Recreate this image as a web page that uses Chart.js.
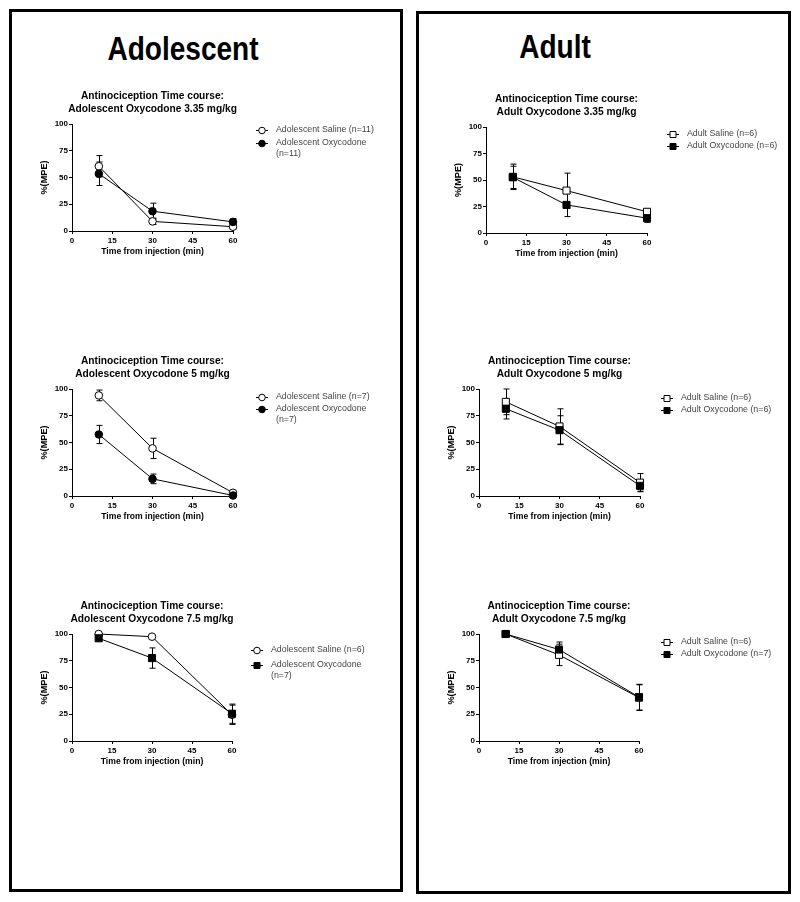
<!DOCTYPE html>
<html lang="en">
<head>
<meta charset="UTF-8">
<title>Antinociception Time course</title>
<script src="https://cdn.jsdelivr.net/npm/chart.js"></script>
<style>
  body { margin: 0; width: 800px; height: 902px; background: #fff; position: relative; font-family: "Liberation Sans", Arial, sans-serif; overflow: hidden; }
  .painel { position: absolute; border: 3px solid #000; box-sizing: border-box; }
  .grupo { position: absolute; width: 200px; text-align: center; font-weight: bold; font-size: 33px; line-height: 33px; transform: scaleX(0.85); white-space: nowrap; }
  canvas { position: absolute; }
</style>
</head>
<body>
<div class="painel" style="left:9px;top:9px;width:394px;height:883px"></div>
<div class="painel" style="left:416px;top:11px;width:375px;height:883px"></div>
<div class="grupo" style="left:83px;top:32px">Adolescent</div>
<div class="grupo" style="left:455px;top:30px">Adult</div>

<script>
// tempos (min) e ticks
var tempos = [10, 30, 60];
var ticksX = [0, 15, 30, 45, 60];
var ticksY = [0, 25, 50, 75, 100];

// Adolescente 3.35 mg/kg
var adolSal335 = [60.5, 9, 4];
var adolSal335Erro = [10, 3, 2];
var adolOxi335 = [53.5, 18.5, 8.5];
var adolOxi335Erro = [11, 7.5, 3];

// Adulto 3.35 mg/kg
var adulSal335 = [53, 40, 20];
var adulSal335Erro = [12, 16.5, 2.5];
var adulOxi335 = [52.5, 26.5, 14];
var adulOxi335Erro = [10.5, 11, 4];

// Adolescente 5 mg/kg
var adolSal5 = [94, 44.5, 3];
var adolSal5Erro = [5, 9.5, 1.5];
var adolOxi5 = [57.5, 16, 0.5];
var adolOxi5Erro = [8.5, 4.5, 0.5];

// Adulto 5 mg/kg
var adulSal5 = [88, 65, 12.5];
var adulSal5Erro = [12, 16.5, 8.5];
var adulOxi5 = [81.5, 61.5, 9.5];
var adulOxi5Erro = [9.5, 13.5, 5];

// Adolescente 7.5 mg/kg
var adolSal75 = [100, 97.5, 24.5];
var adolSal75Erro = [0, 0.8, 9];
var adolOxi75 = [96, 77.5, 25.5];
var adolOxi75Erro = [2, 9.5, 9];

// Adulto 7.5 mg/kg
var adulSal75 = [100, 80.5, 40.5];
var adulSal75Erro = [0, 10, 12];
var adulOxi75 = [100, 85.5, 41];
var adulOxi75Erro = [0, 7, 12];

var titulo1 = 'Antinociception Time course:';

// area = [esquerda, topo, direita, base] da area do grafico na pagina
var graficos = [
  { area: [72, 124, 233, 231], titulo: [titulo1, 'Adolescent Oxycodone 3.35 mg/kg'],
    series: [
      { nome: ['Adolescent Saline (n=11)'], dados: adolSal335, erro: adolSal335Erro, estilo: 'circle', cheio: false },
      { nome: ['Adolescent Oxycodone', '(n=11)'], dados: adolOxi335, erro: adolOxi335Erro, estilo: 'circle', cheio: true }
    ], legX: 29, legY: [6, 19] },
  { area: [486, 127, 647, 233], titulo: [titulo1, 'Adult Oxycodone 3.35 mg/kg'],
    series: [
      { nome: ['Adult Saline (n=6)'], dados: adulSal335, erro: adulSal335Erro, estilo: 'rect', cheio: false },
      { nome: ['Adult Oxycodone (n=6)'], dados: adulOxi335, erro: adulOxi335Erro, estilo: 'rect', cheio: true }
    ], legX: 26, legY: [7, 19] },
  { area: [72, 389, 233, 496], titulo: [titulo1, 'Adolescent Oxycodone 5 mg/kg'],
    series: [
      { nome: ['Adolescent Saline (n=7)'], dados: adolSal5, erro: adolSal5Erro, estilo: 'circle', cheio: false },
      { nome: ['Adolescent Oxycodone', '(n=7)'], dados: adolOxi5, erro: adolOxi5Erro, estilo: 'circle', cheio: true }
    ], legX: 29, legY: [8, 20] },
  { area: [479, 389, 640, 496], titulo: [titulo1, 'Adult Oxycodone 5 mg/kg'],
    series: [
      { nome: ['Adult Saline (n=6)'], dados: adulSal5, erro: adulSal5Erro, estilo: 'rect', cheio: false },
      { nome: ['Adult Oxycodone (n=6)'], dados: adulOxi5, erro: adulOxi5Erro, estilo: 'rect', cheio: true }
    ], legX: 27, legY: [9, 21] },
  { area: [72, 634, 232, 741], titulo: [titulo1, 'Adolescent Oxycodone 7.5 mg/kg'],
    series: [
      { nome: ['Adolescent Saline (n=6)'], dados: adolSal75, erro: adolSal75Erro, estilo: 'circle', cheio: false },
      { nome: ['Adolescent Oxycodone', '(n=7)'], dados: adolOxi75, erro: adolOxi75Erro, estilo: 'rect', cheio: true }
    ], legX: 25, legY: [16, 31] },
  { area: [479, 634, 639, 741], titulo: [titulo1, 'Adult Oxycodone 7.5 mg/kg'],
    series: [
      { nome: ['Adult Saline (n=6)'], dados: adulSal75, erro: adulSal75Erro, estilo: 'rect', cheio: false },
      { nome: ['Adult Oxycodone (n=7)'], dados: adulOxi75, erro: adulOxi75Erro, estilo: 'rect', cheio: true }
    ], legX: 28, legY: [8, 20] }
];

function marcador(ctx, estilo, cheio, x, y) {
  ctx.save();
  ctx.lineWidth = 1;
  ctx.strokeStyle = '#000';
  ctx.fillStyle = cheio ? '#000' : '#fff';
  ctx.beginPath();
  if (estilo == 'circle') {
    ctx.arc(x, y, 3.3, 0, Math.PI * 2);
  } else {
    ctx.rect(x - 3, y - 3, 6, 6);
  }
  ctx.fill();
  ctx.stroke();
  ctx.restore();
}

const enfeites = {
  id: 'enfeites',
  beforeDatasetsDraw(chart) {
    const ctx = chart.ctx;
    const y = chart.scales.y;
    ctx.save();
    ctx.strokeStyle = '#000';
    ctx.lineWidth = 1;
    chart.data.datasets.forEach(function (ds, d) {
      const meta = chart.getDatasetMeta(d);
      ds.data.forEach(function (p, i) {
        const e = ds.erro[i];
        if (!e) return;
        const x = Math.round(meta.data[i].x) + 0.5;
        const y1 = y.getPixelForValue(p.y + e);
        const y2 = y.getPixelForValue(p.y - e);
        ctx.beginPath();
        ctx.moveTo(x, y1); ctx.lineTo(x, y2);
        ctx.moveTo(x - 3, y1); ctx.lineTo(x + 3, y1);
        ctx.moveTo(x - 3, y2); ctx.lineTo(x + 3, y2);
        ctx.stroke();
      });
    });
    ctx.restore();
  },
  afterDraw(chart, args, opts) {
    const ctx = chart.ctx;
    const a = chart.chartArea;
    ctx.save();
    ctx.fillStyle = '#000';
    ctx.textBaseline = 'middle';
    ctx.textAlign = 'center';
    ctx.font = 'bold 10.2px "Liberation Sans", Arial, sans-serif';
    const cx = (a.left + a.right) / 2;
    ctx.fillText(opts.titulo[0], cx, a.top - 27.5);
    ctx.fillText(opts.titulo[1], cx, a.top - 14.5);

    // legenda
    ctx.textAlign = 'left';
    ctx.font = '8.8px "Liberation Sans", Arial, sans-serif';
    const mx = a.right + opts.legX;
    opts.series.forEach(function (s, k) {
      const yy = a.top + opts.legY[k];
      ctx.strokeStyle = '#000';
      ctx.lineWidth = 1;
      ctx.beginPath();
      ctx.moveTo(mx - 6, yy + 0.5); ctx.lineTo(mx + 6, yy + 0.5);
      ctx.stroke();
      marcador(ctx, s.estilo, s.cheio, mx, yy + 0.5);
      ctx.fillStyle = '#444';
      s.nome.forEach(function (linha, j) {
        ctx.fillText(linha, mx + 14, yy + j * 10.5);
      });
    });
    ctx.restore();
  }
};

const LARG = 360, ALT = 178;

graficos.forEach(function (g) {
  const esq = g.area[0], topo = g.area[1], dir = g.area[2], base = g.area[3];
  const cv = document.createElement('canvas');
  cv.width = LARG; cv.height = ALT;
  cv.style.left = (esq - 52) + 'px';
  cv.style.top = (topo - 36) + 'px';
  document.body.appendChild(cv);

  const datasets = g.series.map(function (s) {
    return {
      label: s.nome.join(' '),
      data: tempos.map(function (t, i) { return { x: t, y: s.dados[i] }; }),
      erro: s.erro,
      borderColor: '#000',
      borderWidth: 1,
      pointStyle: s.estilo,
      pointRadius: s.estilo == 'rect' ? 5 : 3.8,
      pointBorderWidth: 1,
      pointBackgroundColor: s.cheio ? '#000' : '#fff',
      pointBorderColor: '#000',
      tension: 0,
      clip: false
    };
  });
  // o salino fica por cima
  datasets.reverse();

  new Chart(cv, {
    type: 'line',
    data: { datasets: datasets },
    options: {
      responsive: false,
      animation: false,
      devicePixelRatio: 1,
      layout: { padding: { left: 19, top: 36, right: LARG - 52 - (dir - esq), bottom: ALT - 36 - (base - topo) - 26 } },
      plugins: {
        legend: { display: false },
        tooltip: { enabled: false },
        enfeites: { titulo: g.titulo, series: g.series, legX: g.legX, legY: g.legY }
      },
      scales: {
        x: {
          type: 'linear', min: 0, max: 60,
          afterFit: function (s) { s.height = 26; },
          afterBuildTicks: function (s) { s.ticks = ticksX.map(function (v) { return { value: v }; }); },
          grid: { drawOnChartArea: false, drawTicks: true, tickLength: 3, color: '#000' },
          border: { display: true, color: '#000', width: 1 },
          ticks: { padding: 2, color: '#000', maxRotation: 0, font: { family: '"Liberation Sans", Arial', size: 8, weight: 'bold' } },
          title: { display: true, text: 'Time from injection (min)', color: '#000', padding: 0, font: { family: '"Liberation Sans", Arial', size: 8.6, weight: 'bold' } }
        },
        y: {
          type: 'linear', min: 0, max: 100,
          afterFit: function (s) { s.width = 33; },
          afterBuildTicks: function (s) { s.ticks = ticksY.map(function (v) { return { value: v }; }); },
          grid: { drawOnChartArea: false, drawTicks: true, tickLength: 3, color: '#000' },
          border: { display: true, color: '#000', width: 1 },
          ticks: { padding: 1, color: '#000', font: { family: '"Liberation Sans", Arial', size: 8, weight: 'bold' } },
          title: { display: true, text: '%(MPE)', color: '#000', padding: 0, font: { family: '"Liberation Sans", Arial', size: 9.2, weight: 'bold' } }
        }
      }
    },
    plugins: [enfeites]
  });
});
</script>
</body>
</html>
